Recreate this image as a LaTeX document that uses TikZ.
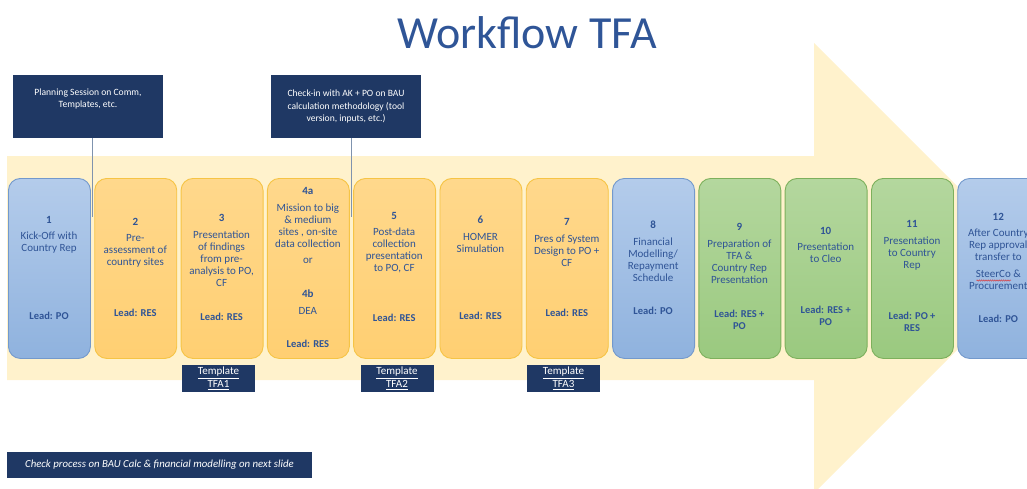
\documentclass[tikz,border=0pt]{standalone}
\usepackage{fontspec}
\setmainfont{Carlito}
\usetikzlibrary{decorations.pathmorphing}
\definecolor{navy}{HTML}{1F3864}
\definecolor{titleblue}{HTML}{2F5597}
\definecolor{txtblue}{HTML}{2F5496}
\definecolor{arrowfill}{HTML}{FFF2CC}
\definecolor{bluetop}{HTML}{B4CCEB}
\definecolor{bluebot}{HTML}{8FB2DE}
\definecolor{blueline}{HTML}{7399CC}
\definecolor{orangetop}{HTML}{FFD88C}
\definecolor{orangebot}{HTML}{FFCF72}
\definecolor{orangeline}{HTML}{F6C445}
\definecolor{greentop}{HTML}{B4D79E}
\definecolor{greenbot}{HTML}{9AC97F}
\definecolor{greenline}{HTML}{7DB05C}
\definecolor{calline}{HTML}{7F93AE}
\definecolor{spellred}{HTML}{E03030}
\begin{document}
\begin{tikzpicture}[x=1pt,y=-1pt,
  stepbox/.style={rounded corners=12pt, minimum width=82pt, minimum height=180pt,
    anchor=north west, line width=0.9pt, inner sep=0pt},
  bluebox/.style={stepbox, draw=blueline, top color=bluetop, bottom color=bluebot},
  orangebox/.style={stepbox, draw=orangeline, top color=orangetop, bottom color=orangebot},
  greenbox/.style={stepbox, draw=greenline, top color=greentop, bottom color=greenbot},
  txt/.style={font=\fontsize{11}{12}\selectfont, text=txtblue, align=center, inner sep=0pt},
  leadtxt/.style={txt, font=\fontsize{10.5}{12}\selectfont\bfseries},
  callout/.style={fill=navy, minimum width=150pt, minimum height=63pt, inner sep=0pt},
  calltxt/.style={font=\fontsize{9.6}{12.5}\selectfont, text=white, align=center, inner sep=0pt},
  tmpl/.style={fill=navy, minimum width=73pt, minimum height=27pt, inner sep=0pt,
    text=white, align=center, font=\fontsize{11}{13}\selectfont},
  calllink/.style={draw=calline, line width=0.8pt},
  spellwave/.style={draw=spellred, line width=0.4pt, decorate,
    decoration={snake, amplitude=0.7pt, segment length=2.2pt}}
]
\useasboundingbox (0,0) rectangle (1027,488);

% big arrow
\fill[arrowfill] (7,156) -- (814,156) -- (814,43) -- (1039,268) -- (814,493) -- (814,380) -- (7,380) -- cycle;

% title
\node[anchor=base, text=titleblue, font=\fontsize{46}{50}\selectfont, inner sep=0pt] (title) at (527,48) {Workflow TFA};

% callouts
\node[callout] (c1) at (88,106.5) {};
\node[calltxt] (c1t) at (88,99) {Planning Session on Comm,\\Templates, etc.};
\node[callout] (c2) at (346,106.5) {};
\node[calltxt] (c2t) at (346,106.5) {Check-in with AK + PO on BAU\\calculation methodology (tool\\version, inputs, etc.)};
\coordinate (l1) at (92,217);
\coordinate (l2) at (351,217);
\draw[calllink] (c1.south -| l1) -- (l1);
\draw[calllink] (c2.south -| l2) -- (l2);

% step boxes
\node[bluebox]   (b1)  at (8,178) {};
\node[orangebox] (b2)  at (94.3,178) {};
\node[orangebox] (b3)  at (180.6,178) {};
\node[orangebox] (b4)  at (266.9,178) {};
\node[orangebox] (b5)  at (353.2,178) {};
\node[orangebox] (b6)  at (439.5,178) {};
\node[orangebox] (b7)  at (525.8,178) {};
\node[bluebox]   (b8)  at (612.1,178) {};
\node[greenbox]  (b9)  at (698.4,178) {};
\node[greenbox]  (b10) at (784.7,178) {};
\node[greenbox]  (b11) at (871,178) {};
\node[bluebox]   (b12) at (957.3,178) {};

% texts
\node[txt] (t1) at (49,235) {\textbf{1}\\[4.5pt]Kick-Off with\\Country Rep};
\node[leadtxt] (d1) at (49,316) {Lead: PO};
\node[txt] (t2) at (135.3,243) {\textbf{2}\\[4.5pt]Pre-\\assessment of\\country sites};
\node[leadtxt] (d2) at (135.3,313) {Lead: RES};
\node[txt] (t3) at (221.6,250.5) {\textbf{3}\\[4.5pt]Presentation\\of findings\\from pre-\\analysis to PO,\\CF};
\node[leadtxt] (d3) at (221.6,317) {Lead: RES};
\node[txt] (t4a) at (307.9,217.5) {\textbf{4a}\\[4.5pt]Mission to big\\\& medium\\sites , on-site\\data collection};
\node[txt] (t4or) at (307.9,261) {or};
\node[txt] (t4b) at (307.9,302) {\textbf{4b}\\[4.5pt]DEA};
\node[leadtxt] (d4) at (307.9,344) {Lead: RES};
\node[txt] (t5) at (394.2,242.5) {\textbf{5}\\[4.5pt]Post-data\\collection\\presentation\\to PO, CF};
\node[leadtxt] (d5) at (394.2,318) {Lead: RES};
\node[txt] (t6) at (480.5,234.5) {\textbf{6}\\[4.5pt]HOMER\\Simulation};
\node[leadtxt] (d6) at (480.5,316) {Lead: RES};
\node[txt] (t7) at (566.8,242.5) {\textbf{7}\\[4.5pt]Pres of System\\Design to PO +\\CF};
\node[leadtxt] (d7) at (566.8,313) {Lead: RES};
\node[txt] (t8) at (653.1,251) {\textbf{8}\\[4.5pt]Financial\\Modelling/\\Repayment\\Schedule};
\node[leadtxt] (d8) at (653.1,311) {Lead: PO};
\node[txt] (t9) at (739.4,253.5) {\textbf{9}\\[4.5pt]Preparation of\\TFA \&\\Country Rep\\Presentation};
\node[leadtxt] (d9) at (739.4,320) {Lead: RES +\\PO};
\node[txt] (t10) at (825.7,245) {\textbf{10}\\[4.5pt]Presentation\\to Cleo};
\node[leadtxt] (d10) at (825.7,316) {Lead: RES +\\PO};
\node[txt] (t11) at (912,245.5) {\textbf{11}\\[4.5pt]Presentation\\to Country\\Rep};
\node[leadtxt] (d11) at (912,322) {Lead: PO +\\RES};
\node[txt] (t12) at (998.3,251.5) {\textbf{12}\\[4.5pt]After Country\\Rep approval\\transfer to\\[5pt]SteerCo \&\\Procurement};
\node[leadtxt] (d12) at (998.3,319) {Lead: PO};
\path[spellwave] (976.5,280.5) -- (1011,280.5);

% templates
\node[tmpl] (tp1) at (218.5,378.5) {\underline{Template}\\\underline{TFA1}};
\node[tmpl] (tp2) at (397,378.5) {\underline{Template}\\\underline{TFA2}};
\node[tmpl] (tp3) at (563.5,378.5) {\underline{Template}\\\underline{TFA3}};

% bottom note
\node[fill=navy, minimum width=305pt, minimum height=26pt, inner sep=0pt, text=white,
  font=\fontsize{10.8}{12}\selectfont\itshape] (note) at (159.5,465) {Check process on BAU Calc \& financial modelling on next slide};
\end{tikzpicture}
\end{document}
